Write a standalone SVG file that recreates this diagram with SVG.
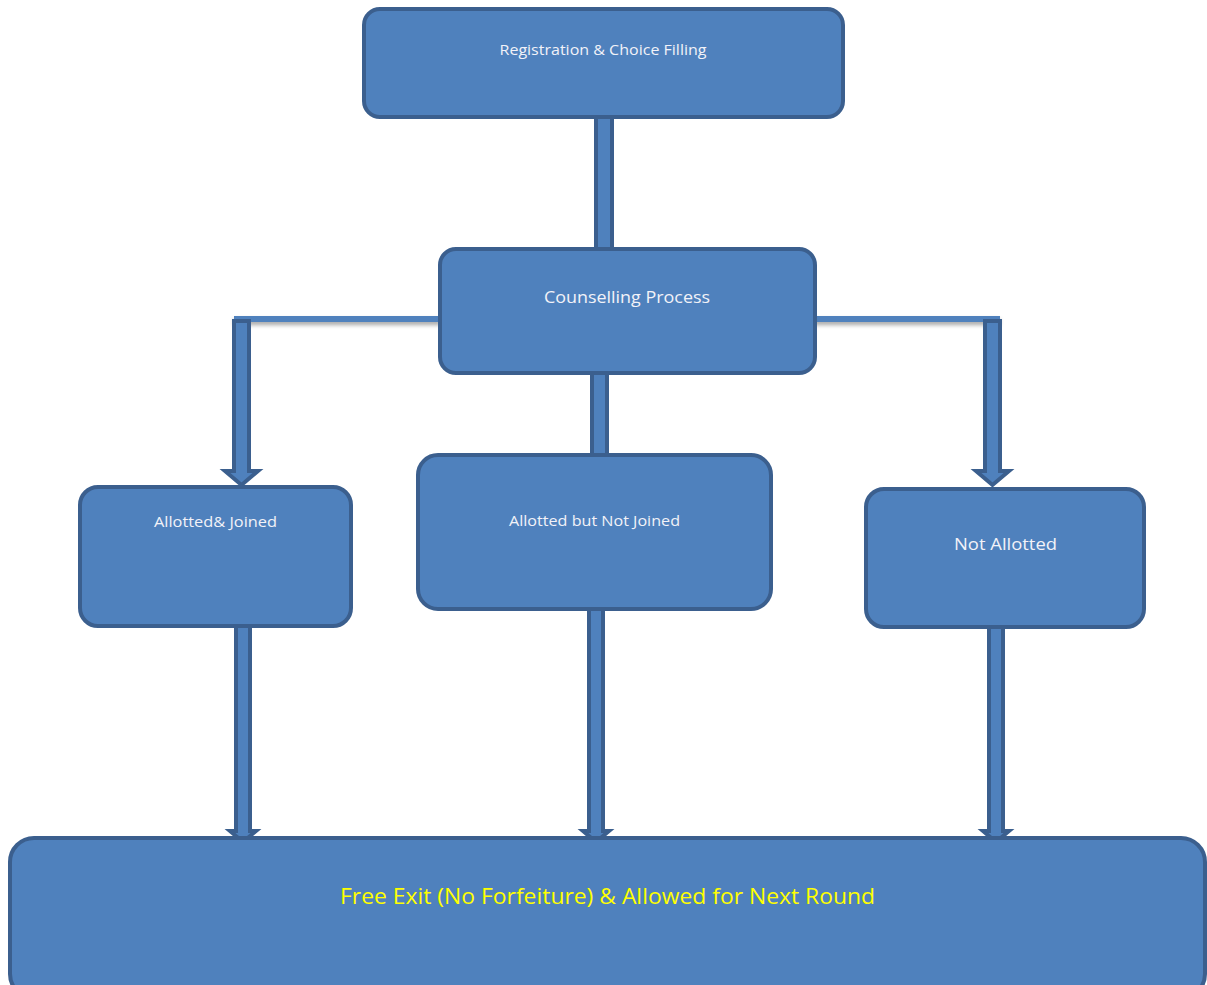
<svg xmlns="http://www.w3.org/2000/svg" width="1207" height="985" viewBox="0 0 1207 985">
<defs>
<style>
.box{fill:#4F81BD;stroke:#3B5F8E;stroke-width:4}
.bar{fill:#4F81BD;stroke:#3B5F8E;stroke-width:4}
.line{fill:none;stroke:#4F81BD;stroke-width:6}
.t{font-family:"Open Sans","Noto Sans",sans-serif;fill:#F2F2F8;text-anchor:middle}
.ty{font-family:"Open Sans","Noto Sans",sans-serif;fill:#FFFF00;text-anchor:middle}
</style>
<filter id="sh" filterUnits="userSpaceOnUse" x="200" y="300" width="830" height="40">
<feGaussianBlur in="SourceAlpha" stdDeviation="2"/>
<feOffset dy="3" result="b"/>
<feComponentTransfer><feFuncA type="linear" slope="0.35"/></feComponentTransfer>
<feMerge><feMergeNode/><feMergeNode in="SourceGraphic"/></feMerge>
</filter>
</defs>
<rect width="1207" height="985" fill="#FFFFFF"/>
<g id="connectors">
<path class="line" filter="url(#sh)" d="M234 319 H441 M813 319 H1000"/>
<rect class="bar" x="596" y="114" width="16" height="137"/>
<rect class="bar" x="592" y="371" width="15" height="86"/>
<polygon class="bar" points="234,321 249,321 249,471 258,471 241.5,485 225,471 234,471"/>
<polygon class="bar" points="985,321 1000,321 1000,471 1009,471 992.5,485 976,471 985,471"/>
<polygon class="bar" points="236,625 250,625 250,831 256,831 243,842 230,831 236,831"/>
<polygon class="bar" points="589,606 603,606 603,831 609,831 596,842 583,831 589,831"/>
<polygon class="bar" points="989,625 1003,625 1003,831 1009,831 996,842 983,831 989,831"/>
</g>
<g id="n-registration">
<rect class="box" x="364" y="9" width="479" height="108" rx="16"/>
<text class="t" x="603" y="55" font-size="14" textLength="207" lengthAdjust="spacingAndGlyphs">Registration &amp; Choice Filling</text>
</g>
<g id="n-counselling">
<rect class="box" x="440" y="249" width="375" height="124" rx="16"/>
<text class="t" x="627" y="303" font-size="16.5" textLength="166" lengthAdjust="spacingAndGlyphs">Counselling Process</text>
</g>
<g id="n-joined">
<rect class="box" x="80" y="487" width="271" height="139" rx="18"/>
<text class="t" x="215.5" y="527" font-size="14" textLength="123" lengthAdjust="spacingAndGlyphs">Allotted&amp; Joined</text>
</g>
<g id="n-notjoined">
<rect class="box" x="418" y="455" width="353" height="154" rx="20"/>
<text class="t" x="594.5" y="526" font-size="14" textLength="171" lengthAdjust="spacingAndGlyphs">Allotted but Not Joined</text>
</g>
<g id="n-notallotted">
<rect class="box" x="866" y="489" width="278" height="138" rx="18"/>
<text class="t" x="1005.5" y="550" font-size="17" textLength="103" lengthAdjust="spacingAndGlyphs">Not Allotted</text>
</g>
<g id="n-freeexit">
<rect class="box" x="10" y="838" width="1195" height="160" rx="24"/>
<text class="ty" x="607.5" y="904" font-size="21" textLength="535" lengthAdjust="spacingAndGlyphs">Free Exit (No Forfeiture) &amp; Allowed for Next Round</text>
</g>
</svg>
